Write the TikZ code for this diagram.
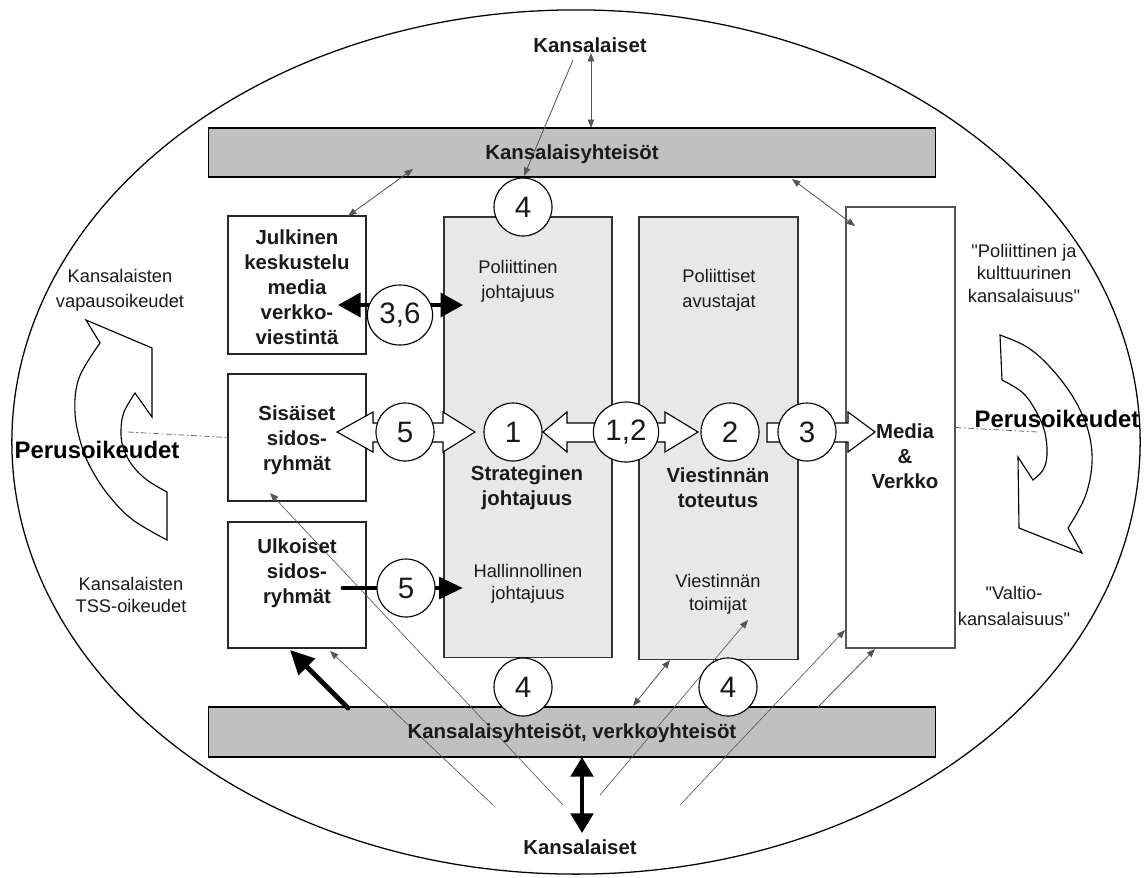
\documentclass[tikz,border=0pt]{standalone}
\usepackage{fontspec}
\setmainfont{Liberation Sans}[Ligatures=TeXOff]
\usetikzlibrary{arrows.meta,shapes.geometric}
\definecolor{barGray}{HTML}{C0C0C0}
\definecolor{colGray}{HTML}{E8E8E8}
\definecolor{lineGray}{HTML}{555555}
\definecolor{txt}{HTML}{1A1A1A}
\begin{document}
\begin{tikzpicture}[x=0.025cm,y=-0.025cm,
  bar/.style={draw=black, line width=0.8pt, fill=barGray, inner sep=0pt},
  wbox/.style={draw=black!85, line width=0.8pt, fill=white, inner sep=0pt},
  mbox/.style={draw=lineGray, line width=0.9pt, fill=white, inner sep=0pt},
  colbox/.style={draw=black!80, line width=0.8pt, fill=colGray, inner sep=0pt},
  num/.style={circle, draw=black, fill=white, line width=0.8pt, minimum size=1.45cm, inner sep=0pt, font=\fontsize{21}{24}\selectfont, text=txt},
  numE/.style={ellipse, draw=black, fill=white, line width=0.8pt, minimum width=1.63cm, minimum height=1.5cm, inner sep=0pt, font=\fontsize{21}{24}\selectfont, text=txt},
  btxt/.style={font=\fontsize{14.5}{17.8}\selectfont\bfseries, align=center, text=txt, inner sep=0pt},
  rtxt/.style={font=\fontsize{13}{17.5}\selectfont, align=center, text=txt, inner sep=0pt},
  bigtxt/.style={font=\fontsize{17}{20}\selectfont\bfseries, align=center, text=black, inner sep=0pt},
  thin/.style={draw=lineGray, line width=0.6pt},
  faint/.style={draw=lineGray, line width=0.45pt},
  tip/.tip={Triangle[length=6pt,width=4.6pt]},
  fat/.style={draw=black, line width=0.8pt, fill=white, line join=miter},
  heavy/.style={draw=black, line width=3pt}
]
\useasboundingbox (0,0) rectangle (1145,877);

% outer ellipse
\draw[line width=0.9pt] (576,442) ellipse [x radius=14.1cm, y radius=10.8cm];

% dash-dot guide lines
\coordinate (dl) at (128,432);
\coordinate (dr) at (1038,432);

% curved block arrows
\draw[fat] (86,320) -- (100,343) -- plot[smooth, tension=0.6] coordinates {(100,343) (79,378) (75,413) (82,447) (93,472) (110,497) (133,520) (167,540)} -- (167,492) -- plot[smooth, tension=0.6] coordinates {(167,492) (147,480) (132,465) (123,447) (121,430) (124,412) (135,393)} -- (152,417) -- (152,348) -- cycle;
\draw[fat] (1000,335) -- plot[smooth, tension=0.6] coordinates {(1000,335) (1027,347) (1050,367) (1073,397) (1088,430) (1092,463) (1085,497) (1068,528)} -- (1082,553) -- (1019,528) -- (1018,457) -- (1033,480) -- plot[smooth, tension=0.6] coordinates {(1033,480) (1043,470) (1047,455) (1045,433) (1037,413) (1023,393) (1002,380)} -- cycle;

% bars
\node[bar, minimum width=18.15cm, minimum height=1.225cm] (topbar) at (572,152.5) {};
\node[bar, minimum width=18.15cm, minimum height=1.25cm] (botbar) at (572,732) {};

% left boxes
\node[wbox, minimum width=3.45cm, minimum height=3.45cm] (jul) at (297,285) {};
\node[wbox, minimum width=3.45cm, minimum height=3.175cm] (sis) at (297,437.5) {};
\node[wbox, minimum width=3.45cm, minimum height=3.15cm] (ulk) at (297,585) {};

% columns
\node[colbox, minimum width=4.2cm, minimum height=11cm] (col1) at (528,437) {};
\node[colbox, minimum width=3.975cm, minimum height=11.05cm] (col2) at (718.5,438) {};
\node[mbox, minimum width=2.725cm, minimum height=11.025cm] (med) at (900.5,427.5) {};

\draw[lineGray, line width=0.5pt, dash pattern=on 4pt off 2pt on 1pt off 2pt] (dl) -- (sis.west);
\draw[lineGray, line width=0.5pt, dash pattern=on 4pt off 2pt on 1pt off 2pt] (med.east) -- (dr);

% top / bottom citizens
\node[btxt] (kTop) at (590,45) {Kansalaiset};
\node[btxt] (kBot) at (580,847) {Kansalaiset};

% coordinates for connectors
\coordinate (a1s) at (591,53);  \coordinate (a1e) at (591,128);
\coordinate (a2s) at (573,60);  \coordinate (a2e) at (524,176);
\coordinate (a3s) at (413,169); \coordinate (a3e) at (348,216);
\coordinate (a4s) at (792,179); \coordinate (a4e) at (855,226);
\coordinate (b1s) at (493,805); \coordinate (b1e) at (330,651);
\coordinate (b2s) at (563,805); \coordinate (b2e) at (270,493);
\coordinate (b3s) at (600,795); \coordinate (b3e) at (748,620);
\coordinate (b4s) at (680,805); \coordinate (b4e) at (845,630);
\coordinate (b5s) at (633,706); \coordinate (b5e) at (670,660);
\coordinate (b6s) at (818,707); \coordinate (b6e) at (875,649);

% thin connectors
\draw[thin, {tip}-{tip}] (a1s) -- (a1e);
\draw[thin, -{tip}] (a2s) -- (a2e);
\draw[thin, {tip}-{tip}] (a3s) -- (a3e);
\draw[thin, {tip}-{tip}] (a4s) -- (a4e);
\draw[faint, -{tip}] (b1s) -- (b1e);
\draw[faint, -{tip}] (b2s) -- (b2e);
\draw[faint, -{tip}] (b3s) -- (b3e);
\draw[faint, -{tip}] (b4s) -- (b4e);
\draw[thin, {tip}-{tip}] (b5s) -- (b5e);
\draw[thin, -{tip}] (b6s) -- (b6e);

% fat hollow arrows
\draw[fat] (337,432) -- (373,412) -- (373,423) -- (443,423) -- (443,412) -- (475,432) -- (443,452) -- (443,442) -- (373,442) -- (373,452) -- cycle;
\draw[fat] (543,432) -- (567,412) -- (567,423) -- (665,423) -- (665,412) -- (698,432) -- (665,452) -- (665,442) -- (567,442) -- (567,452) -- cycle;
\draw[fat] (767,423) -- (848,423) -- (848,412) -- (875,432) -- (848,452) -- (848,442) -- (767,442) -- cycle;

% heavy black arrows
\coordinate (h1s) at (338,305); \coordinate (h1e) at (463,305);
\coordinate (h2s) at (343,588); \coordinate (h2e) at (463,588);
\coordinate (h3s) at (348,708); \coordinate (h3e) at (290,650);
\coordinate (h4s) at (582,757); \coordinate (h4e) at (582,833);
\draw[heavy, line width=2.8pt, {Triangle[length=16pt,width=17pt]}-{Triangle[length=16pt,width=17pt]}] (h1s) -- (h1e);
\draw[heavy, line width=3.5pt, line cap=round, -{Triangle[length=17pt,width=15pt]}] (h2s) -- (h2e);
\draw[heavy, line width=3.5pt, line cap=round, -{Triangle[length=17pt,width=16pt]}] (h3s) -- (h3e);
\draw[heavy, line width=2.8pt, {Triangle[length=14pt,width=16pt]}-{Triangle[length=14pt,width=16pt]}] (h4s) -- (h4e);

% numbered circles
\node[num] (c4t) at (523,207) {4};
\node[numE] (c36) at (400,315) {3,6};
\node[num] (c5a) at (405,432) {5};
\node[num] (c1) at (513,432) {1};
\node[numE] (c12) at (626,432) {1,2};
\node[num] (c2) at (730,432) {2};
\node[num] (c3) at (807,432) {3};
\node[num] (c5b) at (406,588) {5};
\node[num] (c4l) at (523,687) {4};
\node[num] (c4r) at (728,687) {4};

% texts
\node[btxt] at (572,154) {Kansalaisyhteisöt};
\node[btxt] at (572,733) {Kansalaisyhteisöt, verkkoyhteisöt};
\node[btxt] at (297,287) {Julkinen\\keskustelu\\media\\verkko-\\viestintä};
\node[btxt] at (297,440) {Sisäiset\\sidos-\\ryhmät};
\node[btxt] at (297,573) {Ulkoiset\\sidos-\\ryhmät};
\node[btxt] at (527,488) {Strateginen\\johtajuus};
\node[btxt] at (718,488) {Viestinnän\\toteutus};
\node[btxt] at (905,456) {Media\\\&\\Verkko};
\node[rtxt] at (518,281) {Poliittinen\\johtajuus};
\node[rtxt] at (719,290) {Poliittiset\\avustajat};
\node[rtxt, font=\fontsize{13}{15.8}\selectfont] at (528,584) {Hallinnollinen\\johtajuus};
\node[rtxt, font=\fontsize{13}{16.2}\selectfont] at (718,594) {Viestinnän\\toimijat};
\node[rtxt] at (120,290) {Kansalaisten\\vapausoikeudet};
\node[rtxt, font=\fontsize{13}{16.2}\selectfont] at (131,595) {Kansalaisten\\TSS-oikeudet};
\node[rtxt, font=\fontsize{13}{16}\selectfont] at (1024,273) {"Poliittinen ja\\kulttuurinen\\kansalaisuus"};
\node[rtxt, font=\fontsize{13}{18}\selectfont] at (1014,606) {"Valtio-\\kansalaisuus"};
\node[bigtxt] at (97,450) {Perusoikeudet};
\node[bigtxt] at (1057,419) {Perusoikeudet};
\end{tikzpicture}
\end{document}
